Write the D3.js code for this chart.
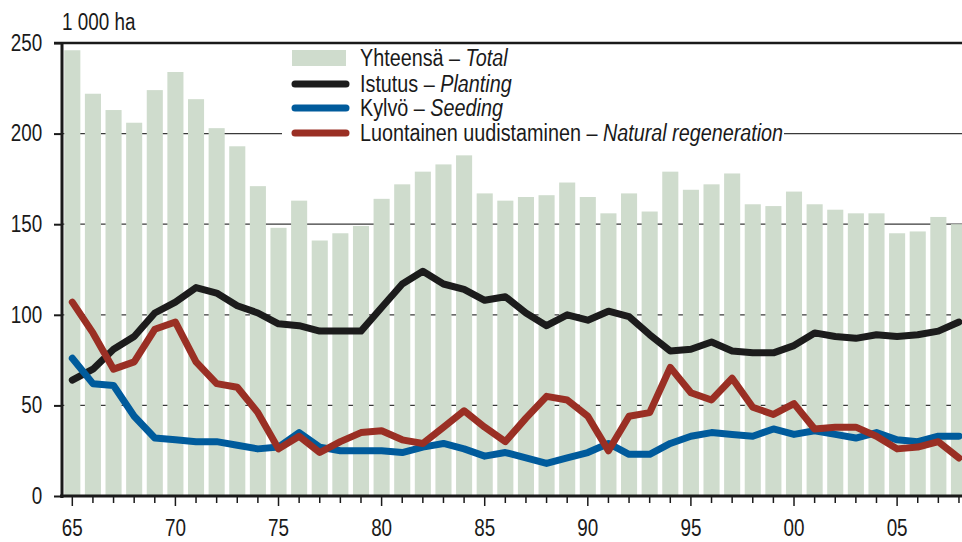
<!DOCTYPE html>
<html>
<head>
<meta charset="utf-8">
<script src="https://cdn.jsdelivr.net/npm/d3@7"></script>
<style>
  body { margin: 0; background: #fff; }
  svg text { font-family: "Liberation Sans", Arial, sans-serif; fill: #1a1a1a; }
</style>
</head>
<body>
<div id="chart"></div>
<script>
// Forest regeneration, 1965-2008 (1 000 ha)
var years = d3.range(1965, 2009);

var total = [246, 222, 213, 206, 224, 234, 219, 203, 193, 171,
  148, 163, 141, 145, 149, 164, 172, 179, 183, 188,
  167, 163, 165, 166, 173, 165, 156, 167, 157, 179,
  169, 172, 178, 161, 160, 168, 161, 158, 156, 156,
  145, 146, 154, 150];

var planting = [64, 70, 81, 88, 101, 107, 115, 112, 105, 101,
  95, 94, 91, 91, 91, 104, 117, 124, 117, 114,
  108, 110, 101, 94, 100, 97, 102, 99, 89, 80,
  81, 85, 80, 79, 79, 83, 90, 88, 87, 89,
  88, 89, 91, 96];

var seeding = [76, 62, 61, 44, 32, 31, 30, 30, 28, 26,
  27, 35, 27, 25, 25, 25, 24, 27, 29, 26,
  22, 24, 21, 18, 21, 24, 29, 23, 23, 29,
  33, 35, 34, 33, 37, 34, 36, 34, 32, 35,
  31, 30, 33, 33];

var natural = [107, 90, 70, 74, 92, 96, 74, 62, 60, 46,
  26, 33, 24, 30, 35, 36, 31, 29, 38, 47,
  38, 30, 43, 55, 53, 44, 25, 44, 46, 71,
  57, 53, 65, 49, 45, 51, 37, 38, 38, 33,
  26, 27, 30, 21];

var yTicks = [0, 50, 100, 150, 200, 250];

var series = [
  { fi: 'Istutus', en: 'Planting', values: planting, color: '#1c1c1c' },
  { fi: 'Kylvö', en: 'Seeding', values: seeding, color: '#005b9c' },
  { fi: 'Luontainen uudistaminen', en: 'Natural regeneration', values: natural, color: '#9a2f24' }
];

var width = 962, height = 542;
var marginLeft = 62, axisBottomY = 496, axisTopY = 43;
var narrow = 'scale(0.82,1)';

var svg = d3.select('#chart').append('svg')
  .attr('width', width)
  .attr('height', height);

var x = d3.scaleBand()
  .domain(years)
  .range([marginLeft, marginLeft + 44 * 20.62])
  .paddingInner(0.22)
  .paddingOuter(0.11);

var y = d3.scaleLinear()
  .domain([0, 250])
  .range([axisBottomY, axisTopY]);

// gridlines behind bars
svg.append('g')
  .selectAll('line')
  .data([50, 100, 150, 200])
  .enter().append('line')
  .attr('x1', marginLeft).attr('x2', width)
  .attr('y1', function(d) { return y(d); })
  .attr('y2', function(d) { return y(d); })
  .attr('stroke', '#3a3a3a')
  .attr('stroke-width', 1.2);

// top frame
svg.append('line')
  .attr('x1', marginLeft - 8).attr('x2', width)
  .attr('y1', y(250)).attr('y2', y(250))
  .attr('stroke', '#1a1a1a')
  .attr('stroke-width', 2.5);

// bars (total)
svg.append('g')
  .selectAll('rect')
  .data(total)
  .enter().append('rect')
  .attr('x', function(d, i) { return x(years[i]); })
  .attr('y', function(d) { return y(d); })
  .attr('width', x.bandwidth())
  .attr('height', function(d) { return axisBottomY - y(d); })
  .attr('fill', '#cfdccd');

// lines
var line = d3.line()
  .x(function(d, i) { return x(years[i]) + x.bandwidth() / 2; })
  .y(function(d) { return y(d); });

svg.append('g')
  .selectAll('path')
  .data(series)
  .enter().append('path')
  .attr('d', function(s) { return line(s.values); })
  .attr('fill', 'none')
  .attr('stroke', function(s) { return s.color; })
  .attr('stroke-width', 7)
  .attr('stroke-linejoin', 'round')
  .attr('stroke-linecap', 'round');

// y axis
var yAxis = svg.append('g')
  .attr('transform', 'translate(' + marginLeft + ',0)')
  .call(d3.axisLeft(y).tickValues(yTicks).tickSize(8).tickPadding(16));
yAxis.select('.domain').remove();
yAxis.selectAll('.tick line').attr('stroke', '#1a1a1a').attr('stroke-width', 2);
yAxis.selectAll('.tick text')
  .attr('font-size', 23)
  .attr('fill', '#1a1a1a')
  .attr('transform', narrow);
svg.append('line')
  .attr('x1', marginLeft).attr('x2', marginLeft)
  .attr('y1', axisTopY - 1).attr('y2', axisBottomY + 2)
  .attr('stroke', '#1a1a1a').attr('stroke-width', 3);

// x axis
var xAxis = svg.append('g')
  .attr('transform', 'translate(0,' + axisBottomY + ')')
  .call(d3.axisBottom(x).tickSize(0).tickPadding(24)
    .tickFormat(function(d) { return d % 5 === 0 ? String(d).slice(2) : ''; }));
xAxis.select('.domain').remove();
xAxis.selectAll('.tick').append('line')
  .attr('y2', function(d) { return d % 5 === 0 ? 10 : 7; })
  .attr('stroke', '#1a1a1a')
  .attr('stroke-width', 1.5);
xAxis.selectAll('.tick text')
  .attr('font-size', 23)
  .attr('fill', '#1a1a1a')
  .attr('transform', narrow);
svg.append('line')
  .attr('x1', marginLeft - 2).attr('x2', width)
  .attr('y1', axisBottomY).attr('y2', axisBottomY)
  .attr('stroke', '#1a1a1a').attr('stroke-width', 3);

// unit label
svg.append('text')
  .attr('transform', 'translate(' + marginLeft + ',30) ' + narrow)
  .attr('font-size', 23)
  .text('1 000 ha');

// legend
var legend = svg.append('g');
legend.append('rect')
  .attr('x', 282).attr('y', 45)
  .attr('width', 502).attr('height', 100)
  .attr('fill', '#fff');

var rowY = [58, 84, 108, 133];
legend.append('rect')
  .attr('x', 292).attr('y', 50)
  .attr('width', 54).attr('height', 16)
  .attr('fill', '#cfdccd');

legend.selectAll('line.key')
  .data(series)
  .enter().append('line')
  .attr('class', 'key')
  .attr('x1', 295).attr('x2', 346)
  .attr('y1', function(s, i) { return rowY[i + 1]; })
  .attr('y2', function(s, i) { return rowY[i + 1]; })
  .attr('stroke', function(s) { return s.color; })
  .attr('stroke-width', 7)
  .attr('stroke-linecap', 'round');

var labels = [{ fi: 'Yhteensä', en: 'Total' }].concat(series);
var texts = legend.selectAll('text')
  .data(labels)
  .enter().append('text')
  .attr('transform', function(d, i) { return 'translate(360,' + (rowY[i] + 8) + ') scale(0.86,1)'; })
  .attr('font-size', 23);
texts.append('tspan').text(function(d) { return d.fi + ' – '; });
texts.append('tspan').attr('font-style', 'italic').text(function(d) { return d.en; });
</script>
</body>
</html>
